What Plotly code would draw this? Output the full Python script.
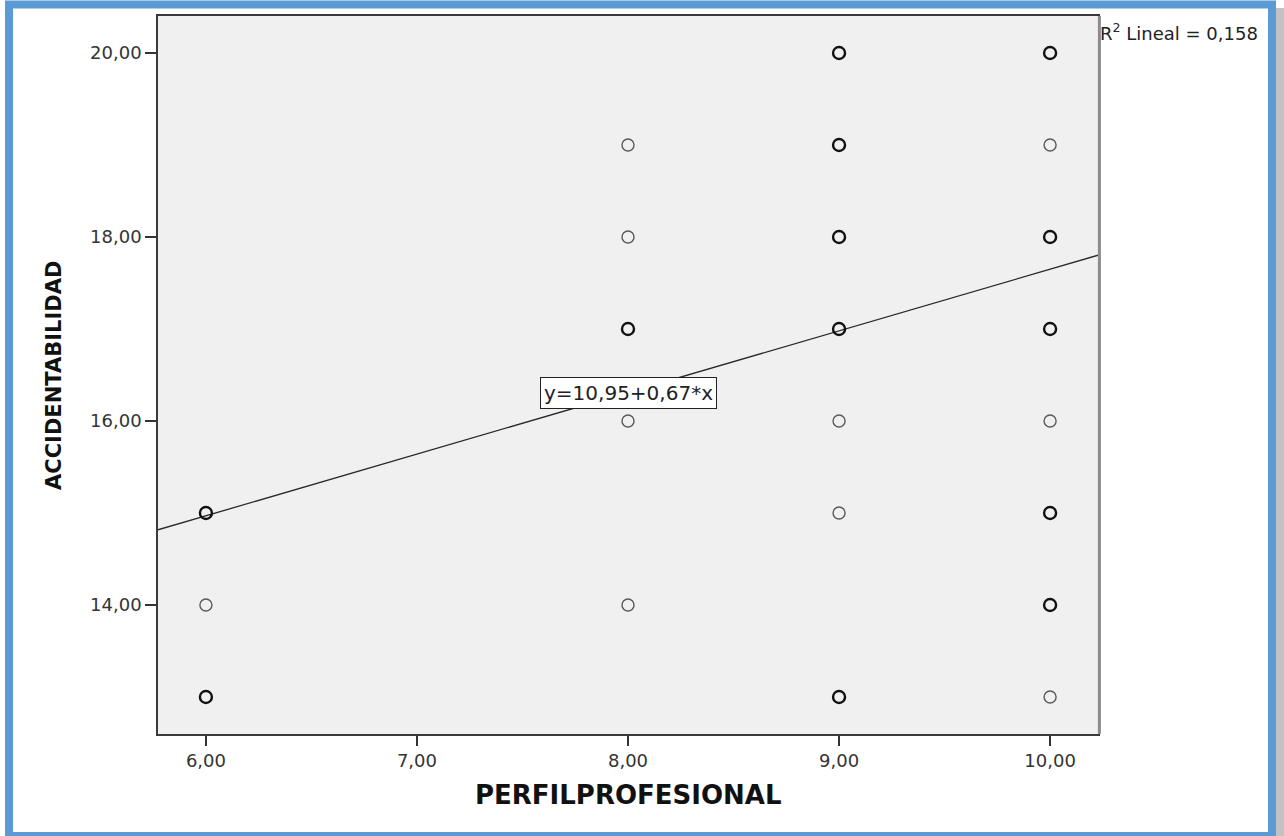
import plotly.graph_objects as go

# Observations: PERFILPROFESIONAL vs ACCIDENTABILIDAD (n = overlapping cases at a point)
perfil = [6, 6, 6,
          8, 8, 8, 8, 8,
          9, 9, 9, 9, 9, 9, 9,
          10, 10, 10, 10, 10, 10, 10, 10]
accid = [15, 14, 13,
         19, 18, 17, 16, 14,
         20, 19, 18, 17, 16, 15, 13,
         20, 19, 18, 17, 16, 15, 14, 13]
n_obs = [3, 1, 2,
         1, 1, 2, 1, 1,
         2, 3, 3, 3, 1, 1, 2,
         3, 1, 3, 2, 1, 2, 2, 1]

# Linear fit
INTERCEPT = 10.95
SLOPE = 0.67
R2 = "0,158"

x_ticks = [6, 7, 8, 9, 10]
x_tick_labels = ["6,00", "7,00", "8,00", "9,00", "10,00"]
y_ticks = [14, 16, 18, 20]
y_tick_labels = ["14,00", "16,00", "18,00", "20,00"]

X_RANGE = [5.773, 10.227]
Y_RANGE = [12.598, 20.402]

W, H = 1284, 836
ML, MR, MT, MB = 158, 186, 16, 102
PW, PH = W - ML - MR, H - MT - MB


def px(xp):
    return (xp - ML) / PW


def py(yp):
    return (H - MB - yp) / PH


FONT = "DejaVu Sans"

fig = go.Figure()

# regression line across the full axis range
fig.add_trace(go.Scatter(
    x=X_RANGE,
    y=[INTERCEPT + SLOPE * X_RANGE[0], INTERCEPT + SLOPE * X_RANGE[1]],
    mode="lines",
    line=dict(color="#2a2a2a", width=1.3),
    hoverinfo="skip",
    showlegend=False,
))

fig.add_trace(go.Scatter(
    x=perfil,
    y=accid,
    mode="markers",
    marker=dict(
        symbol="circle-open",
        size=12,
        color=["#5a5a5a" if n == 1 else "#111111" for n in n_obs],
        line=dict(width=[1.4 if n == 1 else 2.4 for n in n_obs]),
    ),
    customdata=n_obs,
    hovertemplate="%{x}, %{y} (n=%{customdata})<extra></extra>",
    showlegend=False,
))

fig.update_xaxes(
    range=X_RANGE,
    tickvals=x_ticks,
    ticktext=x_tick_labels,
    ticks="outside",
    ticklen=10,
    tickwidth=1.5,
    tickcolor="#333333",
    showgrid=False,
    zeroline=False,
    showline=True,
    mirror=True,
    linecolor="#3a3a3a",
    linewidth=1.5,
    tickfont=dict(family=FONT, size=18, color="#333333"),
)
fig.update_yaxes(
    range=Y_RANGE,
    tickvals=y_ticks,
    ticktext=y_tick_labels,
    ticks="outside",
    ticklen=11,
    tickwidth=1.5,
    tickcolor="#333333",
    showgrid=False,
    zeroline=False,
    showline=True,
    mirror=True,
    linecolor="#3a3a3a",
    linewidth=1.5,
    tickfont=dict(family=FONT, size=18, color="#333333"),
)

shapes = [
    # shaded right edge of the plot frame
    dict(type="line", xref="paper", yref="paper", x0=1.0015, x1=1.0015, y0=0, y1=1.0,
         line=dict(color="#8c8c8c", width=3)),
    # soft shadow outside the page border
    dict(type="rect", xref="paper", yref="paper",
         x0=px(1276), x1=px(1290), y0=py(8), y1=py(840),
         fillcolor="#c2c2c2", line=dict(width=0)),
    # blue page border
    dict(type="rect", xref="paper", yref="paper",
         x0=px(9), x1=px(1272), y0=py(4.5), y1=py(836),
         fillcolor="rgba(0,0,0,0)", line=dict(color="#5b9bd5", width=8)),
]

annotations = [
    dict(text="<b>PERFILPROFESIONAL</b>", xref="paper", yref="paper",
         x=0.5, y=py(795), xanchor="center", yanchor="middle", showarrow=False,
         font=dict(family=FONT, size=26, color="#111111")),
    dict(text="<b>ACCIDENTABILIDAD</b>", xref="paper", yref="paper",
         x=px(54), y=py(376), xanchor="center", yanchor="middle", showarrow=False,
         textangle=-90, font=dict(family=FONT, size=21, color="#111111")),
    dict(text="R<sup>2</sup> Lineal = " + R2, xref="paper", yref="paper",
         x=px(1098), y=py(32), xanchor="left", yanchor="middle", showarrow=False,
         font=dict(family=FONT, size=18, color="#222222")),
    dict(text="y=10,95+0,67*x", xref="x", yref="y",
         x=8.0, y=16.30, xanchor="center", yanchor="middle", showarrow=False,
         bgcolor="#ffffff", bordercolor="#222222", borderwidth=1, borderpad=3,
         font=dict(family=FONT, size=20, color="#222222")),
]

fig.update_layout(
    width=W,
    height=H,
    margin=dict(l=ML, r=MR, t=MT, b=MB),
    paper_bgcolor="#ffffff",
    plot_bgcolor="#f0f0f0",
    shapes=shapes,
    annotations=annotations,
    showlegend=False,
)

fig.write_html("out.html", config={"displayModeBar": False})
